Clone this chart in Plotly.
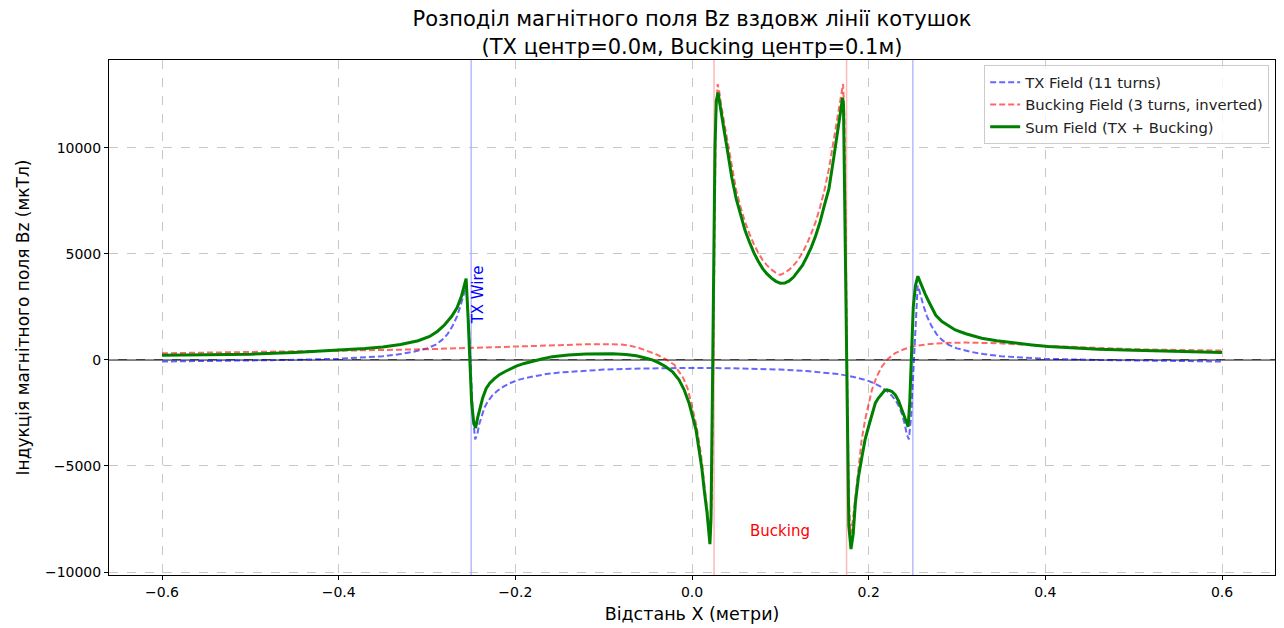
import plotly.graph_objects as go

# ---- data ----
tx_x = [-0.60, -0.55, -0.50, -0.45, -0.40, -0.37, -0.35, -0.33, -0.315, -0.30, -0.29, -0.283,
        -0.277, -0.271, -0.266, -0.262, -0.259, -0.2565, -0.2555, -0.2525, -0.2505, -0.248,
        -0.2455, -0.243, -0.241, -0.238, -0.235, -0.231, -0.226, -0.220, -0.213, -0.205,
        -0.197, -0.188, -0.178, -0.165, -0.150, -0.130, -0.100, -0.070, -0.040, 0.000,
        0.040, 0.070, 0.100, 0.130, 0.150, 0.165, 0.178, 0.188, 0.197, 0.205, 0.213, 0.220,
        0.226, 0.231, 0.235, 0.238, 0.241, 0.243, 0.2455, 0.248, 0.2505, 0.2525, 0.2555,
        0.2565, 0.259, 0.262, 0.266, 0.271, 0.277, 0.283, 0.29, 0.30, 0.315, 0.33, 0.35,
        0.37, 0.40, 0.45, 0.50, 0.55, 0.60]
tx_y = [-80, -60, -30, 0, 50, 110, 170, 270, 380, 540, 720, 940,
        1200, 1600, 2050, 2550, 3000, 3400, 3500, 1500, -500, -2700,
        -3750, -3500, -3050, -2600, -2250, -1950, -1680, -1450, -1250, -1080,
        -950, -850, -760, -670, -600, -530, -460, -420, -395, -380,
        -395, -420, -460, -530, -600, -670, -760, -850, -950, -1080, -1250, -1450,
        -1680, -1950, -2250, -2600, -3050, -3500, -3750, -2700, -500, 1500, 3500,
        3400, 3000, 2550, 2050, 1600, 1200, 940, 720, 540, 380, 270, 170,
        110, 50, 0, -30, -60, -80]

buck_x = [-0.60, -0.50, -0.40, -0.30, -0.20, -0.15, -0.12, -0.10, -0.09, -0.08, -0.07, -0.06,
          -0.05, -0.04, -0.03, -0.02, -0.01, -0.005, 0.000, 0.005, 0.010, 0.014, 0.017, 0.0205,
          0.0225, 0.024, 0.0255, 0.027, 0.029, 0.031, 0.033, 0.036, 0.040, 0.045, 0.050,
          0.055, 0.060, 0.065, 0.070, 0.075, 0.080, 0.085, 0.090, 0.095, 0.100, 0.105, 0.110,
          0.115, 0.120, 0.125, 0.130, 0.135, 0.140, 0.145, 0.150, 0.155, 0.160, 0.164, 0.167,
          0.169, 0.171, 0.1725, 0.174, 0.1755, 0.1775, 0.1795, 0.182, 0.185, 0.1887, 0.192,
          0.196, 0.200, 0.2037, 0.209, 0.215, 0.222, 0.230, 0.240, 0.2527, 0.270, 0.290,
          0.310, 0.347, 0.400, 0.450, 0.500, 0.550, 0.600]
buck_y = [310, 360, 430, 500, 610, 690, 735, 745, 740, 720, 660, 560,
          420, 250, 30, -230, -850, -1350, -2190, -3100, -4400, -5900, -7300, -8300,
          -6500, 0, 7000, 11500, 13000, 12600, 12000, 11300, 10300, 9000, 8000,
          7200, 6500, 5950, 5450, 5050, 4700, 4450, 4250, 4100, 4000, 4100, 4250,
          4450, 4700, 5050, 5450, 5950, 6500, 7200, 8000, 9000, 10300, 11300, 12000,
          12600, 13000, 11500, 7000, 0, -6500, -8200, -7600, -6420, -4850, -3800,
          -2820, -2100, -1410, -800, -313, 50, 313, 500, 657, 750, 800,
          813, 780, 657, 570, 500, 465, 438]

sum_x = [-0.60, -0.55, -0.50, -0.45, -0.40, -0.37, -0.35, -0.33, -0.31, -0.297, -0.288, -0.280,
         -0.272, -0.266, -0.261, -0.258, -0.2557, -0.2535, -0.2515, -0.2495, -0.247, -0.245,
         -0.2425, -0.240, -0.237, -0.233, -0.229, -0.224, -0.218, -0.212, -0.205, -0.199,
         -0.190, -0.180, -0.170, -0.158, -0.140, -0.120, -0.100, -0.090, -0.075, -0.063,
         -0.055, -0.045, -0.038, -0.030, -0.022, -0.0147, -0.009, -0.0034, 0.0045, 0.008,
         0.0113, 0.014, 0.017, 0.0203, 0.0215, 0.023, 0.0245, 0.026, 0.0275, 0.0295, 0.031,
         0.033, 0.036, 0.040, 0.045, 0.050, 0.055, 0.060, 0.065, 0.070, 0.075, 0.080, 0.085,
         0.090, 0.095, 0.100, 0.105, 0.110, 0.115, 0.120, 0.125, 0.130, 0.135, 0.140, 0.145,
         0.150, 0.155, 0.160, 0.164, 0.167, 0.169, 0.1705, 0.1715, 0.173, 0.1745, 0.176,
         0.1775, 0.180, 0.1825, 0.185, 0.1885, 0.1925, 0.196, 0.200, 0.204, 0.2076, 0.211,
         0.215, 0.218, 0.2207, 0.2235, 0.226, 0.230, 0.234, 0.2376, 0.241, 0.2433, 0.2447,
         0.2465, 0.248, 0.2505, 0.253, 0.2557, 0.258, 0.261, 0.264, 0.268, 0.2715, 0.276,
         0.283, 0.290, 0.298, 0.310, 0.328, 0.345, 0.366, 0.385, 0.403, 0.430, 0.460, 0.500,
         0.535, 0.570, 0.600]
sum_y = [220, 240, 266, 340, 438, 530, 600, 720, 900, 1100, 1350, 1650,
         2050, 2450, 3000, 3450, 3830, 2000, 0, -2000, -3000, -3210,
         -2700, -2250, -1800, -1350, -1100, -900, -700, -560, -420, -300,
         -170, -50, 40, 150, 230, 270, 285, 282, 250, 188,
         110, 0, -130, -313, -560, -940, -1400, -2030, -3290, -4150,
         -5160, -6200, -7200, -8690, -7500, -2000, 5000, 10000, 12200, 12600, 12200,
         11600, 10900, 9900, 8600, 7600, 6800, 6100, 5550, 5050, 4650, 4300, 4050,
         3850, 3700, 3610, 3620, 3720, 3900, 4150, 4450, 4850, 5300, 5850, 6500,
         7300, 8050, 9400, 10500, 11400, 12000, 12350, 12000, 7000, 0, -5000,
         -7800, -8920, -8200, -6730, -5500, -4540, -3750, -3130, -2550, -2030, -1800,
         -1565, -1450, -1410, -1430, -1480, -1640, -1950, -2350, -2750, -3050, -3150,
         -2000, 0, 2500, 3500, 3940, 3700, 3350, 3100, 2750, 2430, 2100,
         1800, 1600, 1410, 1230, 1020, 900, 783, 700, 626, 560, 500, 450,
         407, 375, 344]

tx_wires = [-0.25, 0.25]
bucking_wires = [0.025, 0.175]
x_ticks = [-0.6, -0.4, -0.2, 0.0, 0.2, 0.4, 0.6]
y_ticks = [-10000, -5000, 0, 5000, 10000]

FONT = "DejaVu Sans"

fig = go.Figure()
fig.add_trace(go.Scatter(x=tx_x, y=tx_y, mode="lines", name="TX Field (11 turns)",
                         line=dict(color="rgba(0,0,255,0.6)", width=2, dash="6px,3px")))
fig.add_trace(go.Scatter(x=buck_x, y=buck_y, mode="lines", name="Bucking Field (3 turns, inverted)",
                         line=dict(color="rgba(255,0,0,0.6)", width=2, dash="6px,3px")))
fig.add_trace(go.Scatter(x=sum_x, y=sum_y, mode="lines", name="Sum Field (TX + Bucking)",
                         line=dict(color="green", width=3)))

shapes = []
for w in tx_wires:
    shapes.append(dict(type="line", xref="x", yref="paper", x0=w, x1=w, y0=0, y1=1,
                       line=dict(color="#b8b8ff", width=1.5), layer="below"))
for w in bucking_wires:
    shapes.append(dict(type="line", xref="x", yref="paper", x0=w, x1=w, y0=0, y1=1,
                       line=dict(color="#ffb8b8", width=1.5), layer="below"))
shapes.append(dict(type="line", xref="paper", yref="y", x0=0, x1=1, y0=0, y1=0,
                   line=dict(color="black", width=1.2), layer="below"))

annotations = [
    dict(x=tx_wires[0] + 0.008, y=3050, xref="x", yref="y", text="TX Wire", textangle=-90,
         showarrow=False, font=dict(family=FONT, size=15, color="blue")),
    dict(x=sum(bucking_wires) / 2, y=-8070, xref="x", yref="y", text="Bucking", showarrow=False,
         font=dict(family=FONT, size=15, color="red")),
]

axis_common = dict(showline=True, linecolor="black", linewidth=1, mirror=True,
                   ticks="outside", ticklen=4, tickcolor="black",
                   showgrid=True, gridcolor="rgba(176,176,176,0.7)", griddash="dash", gridwidth=0.8,
                   zeroline=False, tickfont=dict(family=FONT, size=14, color="black"))

fig.update_layout(
    width=1284, height=628,
    margin=dict(l=109, r=8, t=60, b=51),
    paper_bgcolor="white", plot_bgcolor="white",
    font=dict(family=FONT, color="black"),
    title=dict(text="Розподіл магнітного поля Bz вздовж лінії котушок<br>(TX центр=0.0м, Bucking центр=0.1м)",
               x=0.5, xref="paper", xanchor="center", y=0.958, yref="container", yanchor="top",
               font=dict(family=FONT, size=21, color="black")),
    xaxis=dict(range=[-0.66, 0.66], tickvals=x_ticks, tickformat=".1f",
               title=dict(text="Відстань X (метри)", font=dict(family=FONT, size=17.5), standoff=8),
               **axis_common),
    yaxis=dict(range=[-10140, 14130], tickvals=y_ticks, tickformat="d",
               title=dict(text="Індукція магнітного поля Bz (мкТл)", font=dict(family=FONT, size=17), standoff=10),
               **axis_common),
    legend=dict(x=0.995, y=0.99, xanchor="right", yanchor="top",
                bgcolor="rgba(255,255,255,0.8)", bordercolor="#cccccc", borderwidth=1,
                font=dict(family=FONT, size=14.8, color="#222222")),
    shapes=shapes,
    annotations=annotations,
    showlegend=True,
)

fig.write_html("out.html")
